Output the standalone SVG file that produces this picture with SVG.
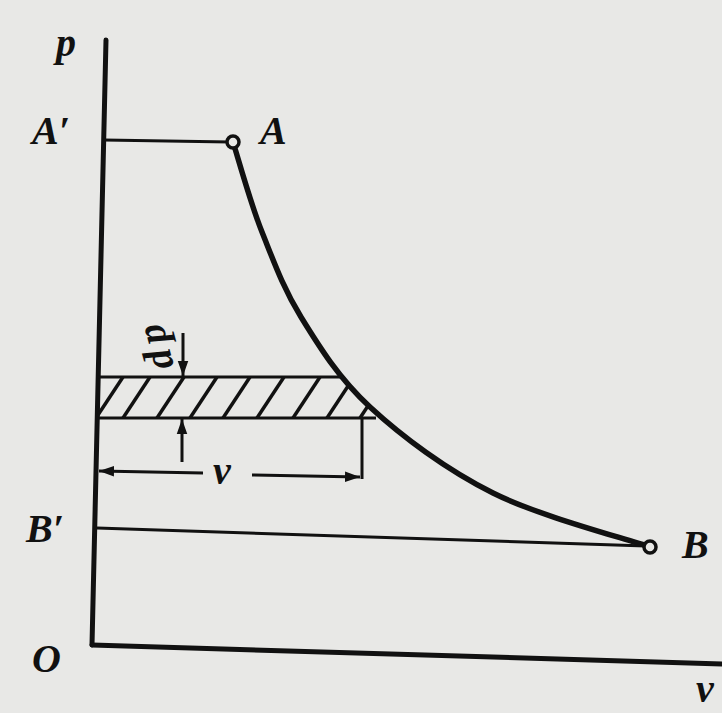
<svg xmlns="http://www.w3.org/2000/svg" width="722" height="713" viewBox="0 0 722 713">
<defs>
<style>
.bg{fill:#e8e8e6}
.ax{stroke:#111;stroke-width:5;fill:none;stroke-linecap:round}
.thin{stroke:#111;stroke-width:3;fill:none}
.curve{stroke:#111;stroke-width:5.5;fill:none;stroke-linecap:round}
.hatch{stroke:#111;stroke-width:3.5}
.pt{fill:#e8e8e6;stroke:#111;stroke-width:3.5}
.lbl{font-family:"Liberation Serif","DejaVu Serif",serif;font-style:italic;font-weight:bold;fill:#111;font-size:40px}
</style>
<marker id="arr" viewBox="0 0 10 10" refX="10" refY="5" markerWidth="5" markerHeight="5" orient="auto-start-reverse" markerUnits="strokeWidth">
<path d="M0,1.5 L10,5 L0,8.5 Z" fill="#111"/>
</marker>
<clipPath id="hc"><polygon points="97,377 343,377 381,418 97,418"/></clipPath>
</defs>
<rect class="bg" x="0" y="0" width="722" height="713"/>
<g id="axes">
<line class="ax" x1="106" y1="40" x2="92" y2="645"/>
<line class="ax" x1="92" y1="645" x2="722" y2="664"/>
</g>
<g id="connectors">
<line class="thin" x1="104" y1="140" x2="230" y2="142"/>
<line class="thin" x1="97" y1="528" x2="646" y2="546"/>
<path class="curve" d="M233,142 C237.8,157 250.3,202.8 262,232 C273.7,261.2 283,287.8 301,317 C319,346.2 338.3,377.7 370,407 C401.7,436.3 446.3,469.7 493,493 C539.7,516.3 623.8,538 650,547"/>
</g>
<g id="strip">
<line class="thin" x1="98" y1="377" x2="343" y2="377"/>
<line class="thin" x1="97" y1="418" x2="376" y2="418"/>
<g clip-path="url(#hc)">
<line class="hatch" x1="96" y1="418" x2="123" y2="377"/>
<line class="hatch" x1="123" y1="418" x2="150" y2="377"/>
<line class="hatch" x1="157" y1="418" x2="184" y2="377"/>
<line class="hatch" x1="190" y1="418" x2="217" y2="377"/>
<line class="hatch" x1="223" y1="418" x2="250" y2="377"/>
<line class="hatch" x1="257" y1="418" x2="284" y2="377"/>
<line class="hatch" x1="293" y1="418" x2="320" y2="377"/>
<line class="hatch" x1="327" y1="418" x2="354" y2="377"/>
<line class="hatch" x1="360" y1="418" x2="387" y2="377"/>
</g>
<line class="thin" x1="362" y1="418" x2="362" y2="479"/>
<line class="thin" x1="183" y1="333" x2="183" y2="376" marker-end="url(#arr)"/>
<line class="thin" x1="182" y1="462" x2="182" y2="419" marker-end="url(#arr)"/>
<line class="thin" x1="203" y1="473" x2="99" y2="471" marker-end="url(#arr)"/>
<line class="thin" x1="252" y1="475" x2="360" y2="477" marker-end="url(#arr)"/>
</g>
<g id="pointA"><circle class="pt" cx="233" cy="142" r="6"/><text class="lbl" x="260" y="144">A</text></g>
<g id="pointB"><circle class="pt" cx="650" cy="547" r="6"/><text class="lbl" x="682" y="558">B</text></g>
<g id="labels">
<text class="lbl" x="56" y="56" font-size="36">p</text>
<text class="lbl" x="32" y="144">A′</text>
<text class="lbl" x="26" y="542">B′</text>
<text class="lbl" x="32" y="672">O</text>
<text class="lbl" x="696" y="702" font-size="36">v</text>
<text class="lbl" x="213" y="484" font-size="34">v</text>
<text class="lbl" font-size="40" letter-spacing="6" transform="translate(174,366) rotate(-105)">dp</text>
</g>
</svg>
